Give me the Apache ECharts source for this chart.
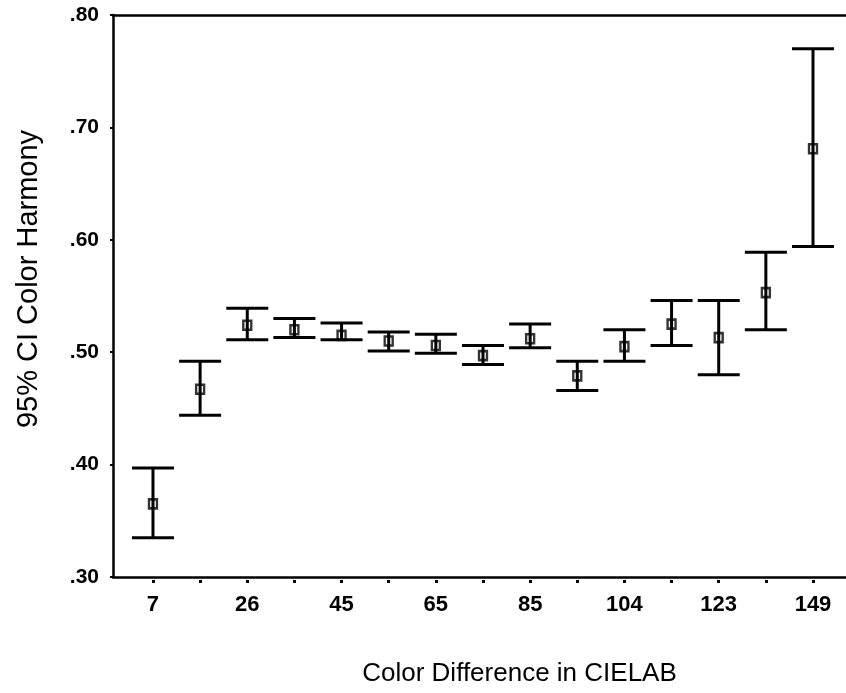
<!DOCTYPE html>
<html>
<head>
<meta charset="utf-8">
<script src="https://cdn.jsdelivr.net/npm/echarts@6/dist/echarts.min.js"></script>
<style>html,body{margin:0;padding:0;background:#fff}#c{width:846px;height:693px}</style>
</head>
<body>
<div id="c"></div>
<script>
// Tick labels of the category positions (only every other one is labelled)
const xTickLabels = ['7','','26','','45','','65','','85','','104','','123','','149'];
// Means and 95% CI bounds
const meanValues = [0.365, 0.467, 0.524, 0.520, 0.515, 0.510, 0.506, 0.497, 0.512, 0.479, 0.505, 0.525, 0.513, 0.553, 0.681];
const lowerCI    = [0.335, 0.444, 0.511, 0.513, 0.511, 0.501, 0.499, 0.489, 0.504, 0.466, 0.492, 0.506, 0.480, 0.520, 0.594];
const upperCI    = [0.397, 0.492, 0.539, 0.530, 0.526, 0.518, 0.516, 0.506, 0.525, 0.492, 0.520, 0.546, 0.546, 0.589, 0.770];

const idx = xTickLabels.map((_, i) => i);
const font = "'Liberation Sans', Arial, sans-serif";

const chart = echarts.init(document.getElementById('c'), null, {renderer: 'canvas'});
const xMin = -0.848, xMax = 14.7;
chart.setOption({
  animation: false,
  backgroundColor: '#fff',
  grid: {left: 113, right: 0, top: 15, bottom: 116, containLabel: false},
  xAxis: [
    {
      type: 'value', position: 'bottom', min: xMin, max: xMax,
      axisLine: {show: true, onZero: false, lineStyle: {color: '#000', width: 2.5}},
      axisTick: {show: false}, axisLabel: {show: false}, splitLine: {show: false},
      name: 'Color Difference in CIELAB', nameLocation: 'middle', nameGap: 84,
      nameTextStyle: {fontFamily: font, fontSize: 26, color: '#000', padding: [0, 0, 0, 80]}
    },
    {
      type: 'value', position: 'bottom', offset: 3, min: xMin, max: xMax,
      axisLine: {show: false, onZero: false},
      axisTick: {show: true, customValues: idx, length: 3, lineStyle: {color: '#000', width: 3}},
      axisLabel: {show: true, customValues: idx, margin: 14, fontFamily: font, fontSize: 22, fontWeight: 'bold', color: '#000',
        formatter: v => xTickLabels[Math.round(v)] || ''},
      splitLine: {show: false}
    },
    {
      type: 'value', position: 'top', min: xMin, max: xMax,
      axisLine: {show: true, onZero: false, lineStyle: {color: '#000', width: 2.5}},
      axisTick: {show: false}, axisLabel: {show: false}, splitLine: {show: false}
    }
  ],
  yAxis: {
    type: 'value', min: 0.3, max: 0.8, interval: 0.1,
    axisLine: {show: true, onZero: false, lineStyle: {color: '#000', width: 2.5}},
    axisTick: {show: true, length: 3, lineStyle: {color: '#000', width: 2}},
    axisLabel: {margin: 14, fontFamily: font, fontSize: 21, fontWeight: 'bold', color: '#000',
      formatter: v => v.toFixed(2).replace(/^0/, '')},
    splitLine: {show: false},
    name: '95% CI Color Harmony', nameLocation: 'middle', nameGap: 70,
    nameTextStyle: {fontFamily: font, fontSize: 29, color: '#000', padding: [0, 0, 0, 34]}
  },
  series: [
    {
      type: 'custom', xAxisIndex: 0,
      data: idx.map(i => [i, lowerCI[i], upperCI[i]]),
      renderItem: (params, api) => {
        const x = api.value(0);
        const lo = api.coord([x, api.value(1)]);
        const hi = api.coord([x, api.value(2)]);
        const hw = 21;
        const st = {stroke: '#000', lineWidth: 3};
        return {type: 'group', children: [
          {type: 'line', shape: {x1: hi[0], y1: hi[1], x2: lo[0], y2: lo[1]}, style: st},
          {type: 'line', shape: {x1: hi[0] - hw, y1: hi[1], x2: hi[0] + hw, y2: hi[1]}, style: st},
          {type: 'line', shape: {x1: lo[0] - hw, y1: lo[1], x2: lo[0] + hw, y2: lo[1]}, style: st}
        ]};
      },
      z: 2
    },
    {
      type: 'scatter', xAxisIndex: 0,
      data: idx.map(i => [i, meanValues[i]]),
      symbol: 'rect', symbolSize: [8, 9],
      itemStyle: {color: 'rgba(255,255,255,0)', borderColor: '#000', borderWidth: 2.5},
      z: 3
    }
  ]
});
</script>
</body>
</html>
